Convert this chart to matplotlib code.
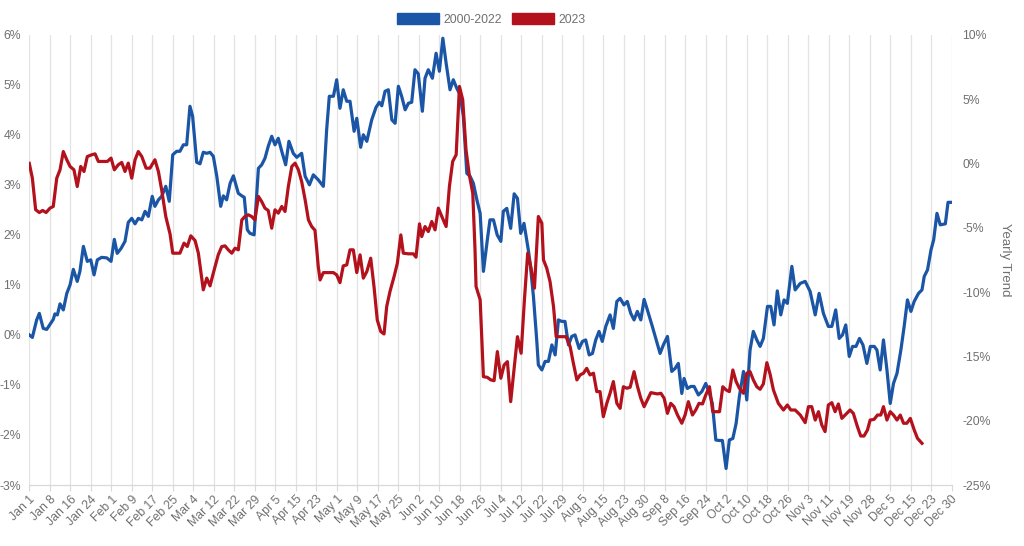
import matplotlib
matplotlib.use("Agg")
import matplotlib.pyplot as plt
from matplotlib.patches import Patch

plt.rcParams['font.family'] = ['Liberation Sans', 'DejaVu Sans']

# ---- data ----
date_labels = ["Jan 1", "Jan 8", "Jan 16", "Jan 24", "Feb 1", "Feb 9", "Feb 17", "Feb 25",
               "Mar 4", "Mar 12", "Mar 22", "Mar 29", "Apr 5", "Apr 15", "Apr 23", "May 1",
               "May 9", "May 17", "May 25", "Jun 2", "Jun 10", "Jun 18", "Jun 26", "Jul 4",
               "Jul 12", "Jul 22", "Jul 29", "Aug 5", "Aug 15", "Aug 23", "Aug 30", "Sep 8",
               "Sep 16", "Sep 24", "Oct 2", "Oct 10", "Oct 18", "Oct 26", "Nov 3", "Nov 11",
               "Nov 19", "Nov 28", "Dec 5", "Dec 15", "Dec 23", "Dec 30"]

# 2000-2022 seasonal average (left axis, %), x in date-label index units
avg_x = [0.00, 0.15, 0.36, 0.49, 0.68, 0.85, 1.17, 1.25, 1.37, 1.50, 1.66, 1.83, 1.99, 2.15, 2.34,
         2.47, 2.64, 2.83, 3.00, 3.16, 3.32, 3.53, 3.78, 3.99, 4.15, 4.29, 4.48, 4.67, 4.83, 5.00,
         5.16, 5.32, 5.49, 5.65, 5.81, 6.00, 6.13, 6.30, 6.46, 6.66, 6.83, 7.00, 7.19, 7.35, 7.52,
         7.68, 7.84, 7.97, 8.17, 8.33, 8.49, 8.66, 8.82, 8.98, 9.15, 9.34, 9.47, 9.63, 9.80, 9.96,
         10.20, 10.37, 10.49, 10.64, 10.77, 10.97, 11.18, 11.34, 11.50, 11.66, 11.83, 11.99, 12.15,
         12.32, 12.51, 12.67, 12.88, 13.05, 13.29, 13.46, 13.67, 13.86, 14.10, 14.35, 14.51, 14.64,
         14.84, 15.00, 15.16, 15.32, 15.49, 15.65, 15.85, 15.98, 16.17, 16.30, 16.47, 16.71, 16.92,
         17.08, 17.20, 17.36, 17.52, 17.69, 17.85, 18.01, 18.17, 18.34, 18.50, 18.66, 18.82, 18.98,
         19.18, 19.31, 19.47, 19.67, 19.85, 20.01, 20.18, 20.34, 20.53, 20.69, 20.86, 21.02, 21.18,
         21.35, 21.51, 21.67, 21.84, 22.00, 22.16, 22.35, 22.48, 22.65, 22.83, 23.01, 23.13, 23.30,
         23.49, 23.66, 23.82, 23.98, 24.14, 24.35, 24.44, 24.60, 24.76, 24.84, 25.01, 25.17, 25.33,
         25.50, 25.66, 25.82, 25.98, 26.14, 26.31, 26.47, 26.63, 26.83, 26.99, 27.15, 27.32, 27.48,
         27.64, 27.80, 27.96, 28.13, 28.34, 28.50, 28.67, 28.83, 29.02, 29.18, 29.35, 29.51, 29.67,
         29.84, 30.00, 30.16, 30.38, 30.59, 30.78, 30.94, 31.14, 31.35, 31.51, 31.67, 31.84, 31.95,
         32.11, 32.28, 32.44, 32.65, 32.82, 33.01, 33.19, 33.33, 33.50, 33.66, 33.82, 34.00, 34.16,
         34.33, 34.49, 34.65, 34.85, 35.01, 35.17, 35.33, 35.50, 35.66, 35.82, 36.02, 36.18, 36.34,
         36.50, 36.67, 36.83, 36.99, 37.21, 37.37, 37.62, 37.86, 38.10, 38.35, 38.54, 38.75, 38.99,
         39.16, 39.35, 39.52, 39.68, 39.84, 40.01, 40.17, 40.34, 40.51, 40.68, 40.87, 41.04, 41.23,
         41.36, 41.52, 41.68, 41.85, 42.01, 42.17, 42.34, 42.53, 42.69, 42.85, 43.02, 43.18, 43.39,
         43.56, 43.67, 43.83, 44.00, 44.13, 44.29, 44.45, 44.70, 44.83, 45.00]
avg_y = [0.00, -0.05, 0.30, 0.43, 0.13, 0.11, 0.31, 0.42, 0.40, 0.62, 0.50, 0.83, 1.00, 1.31, 1.07,
         1.27, 1.77, 1.47, 1.50, 1.20, 1.50, 1.55, 1.54, 1.47, 1.91, 1.63, 1.73, 1.87, 2.25, 2.33,
         2.22, 2.33, 2.30, 2.47, 2.37, 2.77, 2.57, 2.70, 2.77, 2.97, 2.67, 3.60, 3.67, 3.67, 3.80,
         3.80, 4.57, 4.37, 3.45, 3.42, 3.65, 3.63, 3.65, 3.57, 3.17, 2.57, 2.78, 2.70, 3.03, 3.18,
         2.83, 2.78, 2.75, 2.10, 2.03, 2.00, 3.33, 3.40, 3.53, 3.77, 3.97, 3.80, 3.93,
         3.67, 3.40, 3.87, 3.63, 3.55, 3.63, 3.17, 3.00, 3.20, 3.10, 2.97, 4.10, 4.77,
         4.77, 5.10, 4.53, 4.90, 4.67, 4.67, 4.07, 4.33, 3.75, 4.00, 3.87, 4.30, 4.55,
         4.65, 4.58, 4.87, 4.90, 4.30, 4.23, 4.97, 4.77, 4.50, 4.63, 4.65, 5.30, 5.22,
         4.47, 5.13, 5.30, 5.13, 5.63, 5.27, 5.93, 5.43, 4.90, 5.10, 4.93, 4.80, 4.37,
         3.23, 3.17, 3.03, 2.70, 2.43, 1.27, 1.90, 2.30, 2.30, 2.00, 1.87, 2.47, 2.53,
         2.13, 2.82, 2.73, 2.03, 2.23, 1.70, 1.43, 0.77, -0.10, -0.60, -0.70, -0.53, -0.53,
         -0.20, -0.40, 0.30, 0.27, 0.27, -0.20, -0.03, 0.00, -0.27, -0.13, -0.10, -0.40, -0.37,
         -0.10, 0.07, -0.13, 0.17, 0.40, 0.13, 0.67, 0.73, 0.60, 0.67, 0.43, 0.30, 0.47,
         0.30, 0.71, 0.50, 0.20, -0.10, -0.37, -0.20, -0.03, -0.73, -0.67, -0.57, -1.17, -0.87,
         -1.07, -1.03, -1.03, -1.20, -1.13, -0.97, -1.17, -1.37, -2.10, -2.11, -2.11, -2.67, -2.10,
         -2.07, -1.77, -1.23, -0.73, -1.30, -0.30, 0.07, -0.10, -0.23, -0.07, 0.57, 0.57, 0.20,
         0.88, 0.40, 0.70, 0.63, 1.37, 0.90, 1.03, 1.07, 0.87, 0.40, 0.83, 0.43, 0.17,
         0.17, 0.50, -0.07, 0.00, 0.20, -0.43, -0.23, -0.23, -0.07, -0.20, -0.57, -0.23, -0.23,
         -0.30, -0.70, -0.10, -0.70, -1.37, -0.97, -0.77, -0.30, 0.17, 0.70, 0.47, 0.67, 0.83,
         0.90, 1.17, 1.30, 1.70, 1.90, 2.43, 2.20, 2.22, 2.65, 2.65]

# 2023 yearly trend (right axis, %)
y23_x = [0.00, 0.15, 0.31, 0.49, 0.65, 0.82, 1.01, 1.17, 1.34, 1.50, 1.66, 1.83, 1.99, 2.18, 2.34,
         2.51, 2.67, 2.83, 3.05, 3.21, 3.37, 3.61, 3.81, 3.99, 4.15, 4.34, 4.51, 4.67, 4.83, 5.00,
         5.16, 5.32, 5.49, 5.70, 5.89, 6.13, 6.30, 6.46, 6.66, 6.87, 7.00, 7.19, 7.35, 7.55, 7.71,
         7.88, 8.09, 8.25, 8.49, 8.66, 8.82, 8.98, 9.22, 9.39, 9.55, 9.71, 9.88, 10.04, 10.20,
         10.37, 10.52, 10.69, 10.85, 11.01, 11.18, 11.34, 11.50, 11.66, 11.83, 11.99, 12.15, 12.32,
         12.48, 12.64, 12.81, 12.97, 13.13, 13.29, 13.46, 13.62, 13.78, 13.94, 14.03, 14.10, 14.19,
         14.35, 14.59, 14.84, 15.00, 15.16, 15.32, 15.49, 15.65, 15.81, 15.98, 16.14, 16.30, 16.47,
         16.66, 16.82, 16.98, 17.15, 17.31, 17.44, 17.60, 17.80, 17.96, 18.13, 18.25, 18.50, 18.74,
         18.87, 19.04, 19.15, 19.31, 19.47, 19.64, 19.80, 19.96, 20.13, 20.34, 20.50, 20.66, 20.83,
         20.99, 21.15, 21.31, 21.47, 21.64, 21.75, 21.80, 22.00, 22.16, 22.35, 22.52, 22.68, 22.84,
         23.01, 23.17, 23.33, 23.49, 23.65, 23.82, 24.00, 24.16, 24.32, 24.47, 24.65, 24.84, 25.01,
         25.09, 25.25, 25.41, 25.58, 25.71, 25.87, 26.03, 26.19, 26.39, 26.55, 26.72, 26.88, 27.04,
         27.20, 27.36, 27.53, 27.69, 27.85, 28.01, 28.18, 28.34, 28.50, 28.67, 28.83, 28.99, 29.16,
         29.32, 29.51, 29.68, 29.84, 30.00, 30.16, 30.33, 30.49, 30.65, 30.82, 30.98, 31.14, 31.30,
         31.46, 31.63, 31.84, 32.00, 32.16, 32.36, 32.52, 32.68, 32.85, 33.01, 33.19, 33.35, 33.51,
         33.68, 33.84, 34.00, 34.16, 34.33, 34.49, 34.65, 34.85, 35.01, 35.17, 35.33, 35.50, 35.66,
         35.82, 35.99, 36.15, 36.31, 36.55, 36.80, 36.99, 37.16, 37.37, 37.62, 37.86, 38.02, 38.18,
         38.35, 38.51, 38.67, 38.83, 38.99, 39.16, 39.32, 39.48, 39.65, 39.81, 40.05, 40.21, 40.41,
         40.57, 40.73, 40.90, 41.03, 41.22, 41.39, 41.55, 41.68, 41.85, 42.01, 42.17, 42.34, 42.50,
         42.66, 42.82, 42.99, 43.18, 43.34, 43.56]
y23_y = [0.00, -1.15, -3.60, -3.82, -3.66, -3.82, -3.48, -3.35, -1.15, -0.50, 0.92, 0.28, -0.24, -0.50, -1.80,
         -0.24, -0.63, 0.53, 0.67, 0.74, 0.15, 0.15, 0.15, 0.41, -0.50, -0.11, 0.07, -0.63, 0.02, -1.15,
         0.28, 0.92, 0.53, -0.37, -0.37, 0.28, -0.63, -2.06, -4.13, -5.50, -6.98, -6.98, -6.98, -6.20, -6.46,
         -5.63, -6.00, -6.98, -9.83, -8.92, -9.52, -8.53, -7.11, -6.47, -6.41, -6.72, -6.98, -6.59, -6.72,
         -4.40, -4.13, -4.00, -4.13, -4.39, -2.57, -2.97, -3.48, -3.66, -5.04, -3.61, -3.87, -3.35,
         -3.74, -1.80, -0.24, 0.02, -0.50, -1.41, -2.83, -4.39, -4.91, -5.20, -6.72, -8.02, -9.06,
         -8.49, -8.49, -8.49, -8.67, -9.27, -7.97, -7.89, -6.72, -6.72, -8.49, -7.11, -8.92, -8.41,
         -7.37, -9.57, -12.17, -13.07, -13.26, -11.13, -9.96, -8.80, -7.76, -5.56, -6.98, -7.03, -7.03,
         -7.29, -4.70, -5.69, -4.91, -5.30, -4.52, -5.17, -3.48, -4.13, -4.91, -1.80, 0.15, 0.67,
         5.98, 4.94, 1.06, -0.89, -2.31, -6.72, -9.57, -10.60, -16.58, -16.63, -16.83, -16.89, -14.63,
         -16.70, -15.67, -15.41, -18.52, -16.06, -13.47, -14.76, -10.61, -6.98, -8.02, -9.70, -4.13, -4.65,
         -7.50, -8.15, -9.19, -11.13, -13.47, -13.47, -13.47, -13.47, -14.24, -15.54, -16.83, -16.44, -16.31,
         -15.93, -16.44, -16.31, -17.74, -17.74, -19.69, -18.65, -17.87, -16.96, -18.65, -19.04, -17.36, -17.48,
         -17.40, -16.19, -17.36, -18.26, -18.91, -18.39, -17.82, -17.87, -17.92, -17.87, -18.26, -19.43, -18.65,
         -18.91, -19.56, -20.20, -19.56, -18.52, -19.56, -19.17, -18.65, -18.70, -18.00, -17.36, -19.30, -19.30,
         -19.30, -17.36, -17.61, -17.74, -16.06, -16.96, -17.48, -17.87, -16.31, -16.19, -16.83, -17.36, -17.56,
         -17.14, -15.49, -16.40, -17.61, -18.65, -19.17, -18.78, -19.17, -19.17, -19.56, -20.15, -18.91, -18.91,
         -19.95, -19.30, -20.33, -20.85, -18.78, -18.60, -19.30, -18.70, -19.82, -19.56, -19.17, -19.43, -20.47,
         -21.19, -21.19, -20.72, -19.95, -19.90, -19.56, -19.56, -18.91, -19.95, -19.30, -19.56, -19.95, -19.56,
         -20.20, -20.20, -19.82, -20.72, -21.37, -21.76]

left_ticks = [-3, -2, -1, 0, 1, 2, 3, 4, 5, 6]
right_ticks = [-25, -20, -15, -10, -5, 0, 5, 10]
series_names = ["2000-2022", "2023"]

# ---- style ----
BLUE = "#1b55a6"
RED = "#b3121d"
GREY = "#707070"

fig = plt.figure(figsize=(10.24, 5.46), dpi=100)
ax = fig.add_axes([0.0286, 0.1117, 0.9006, 0.8247])
ax2 = ax.twinx()

ax.plot(avg_x, avg_y, color=BLUE, lw=2.3, solid_joinstyle='round', zorder=3)
ax2.plot(y23_x, y23_y, color=RED, lw=2.3, solid_joinstyle='round', zorder=3)

ax.set_xlim(0, len(date_labels) - 1)
ax.set_ylim(-3, 6)
ax2.set_ylim(-25, 10)

ax.set_xticks(range(len(date_labels)))
ax.set_xticklabels(date_labels, rotation=45, ha='right', rotation_mode='anchor',
                   fontsize=8.8, color=GREY)
ax.tick_params(axis='x', length=4, color='#d9d9d9', pad=2)
ax.grid(axis='x', color='#e3e3e3', lw=0.9, zorder=0)

ax.set_yticks(left_ticks)
ax.set_yticklabels([f"{t}%" for t in left_ticks], fontsize=8.8, color=GREY)
ax.tick_params(axis='y', length=0, pad=6)
ax2.set_yticks(right_ticks)
ax2.set_yticklabels([f"{t}%" for t in right_ticks], fontsize=8.8, color=GREY)
ax2.tick_params(axis='y', length=0, pad=8)
ax2.set_ylabel("Yearly Trend", rotation=270, fontsize=9.5, color=GREY, labelpad=14)

for a in (ax, ax2):
    for s in ('top', 'left', 'right'):
        a.spines[s].set_visible(False)
    a.spines['bottom'].set_color('#d9d9d9')

handles = [Patch(facecolor=BLUE, edgecolor=BLUE), Patch(facecolor=RED, edgecolor=RED)]
fig.legend(handles, series_names, loc='upper center', bbox_to_anchor=(0.48, 0.997), ncol=2,
           frameon=False, fontsize=8.8, handlelength=3.4, handleheight=1.1,
           handletextpad=0.4, columnspacing=0.8, labelcolor=GREY)

fig.savefig("out.png", dpi=100)
